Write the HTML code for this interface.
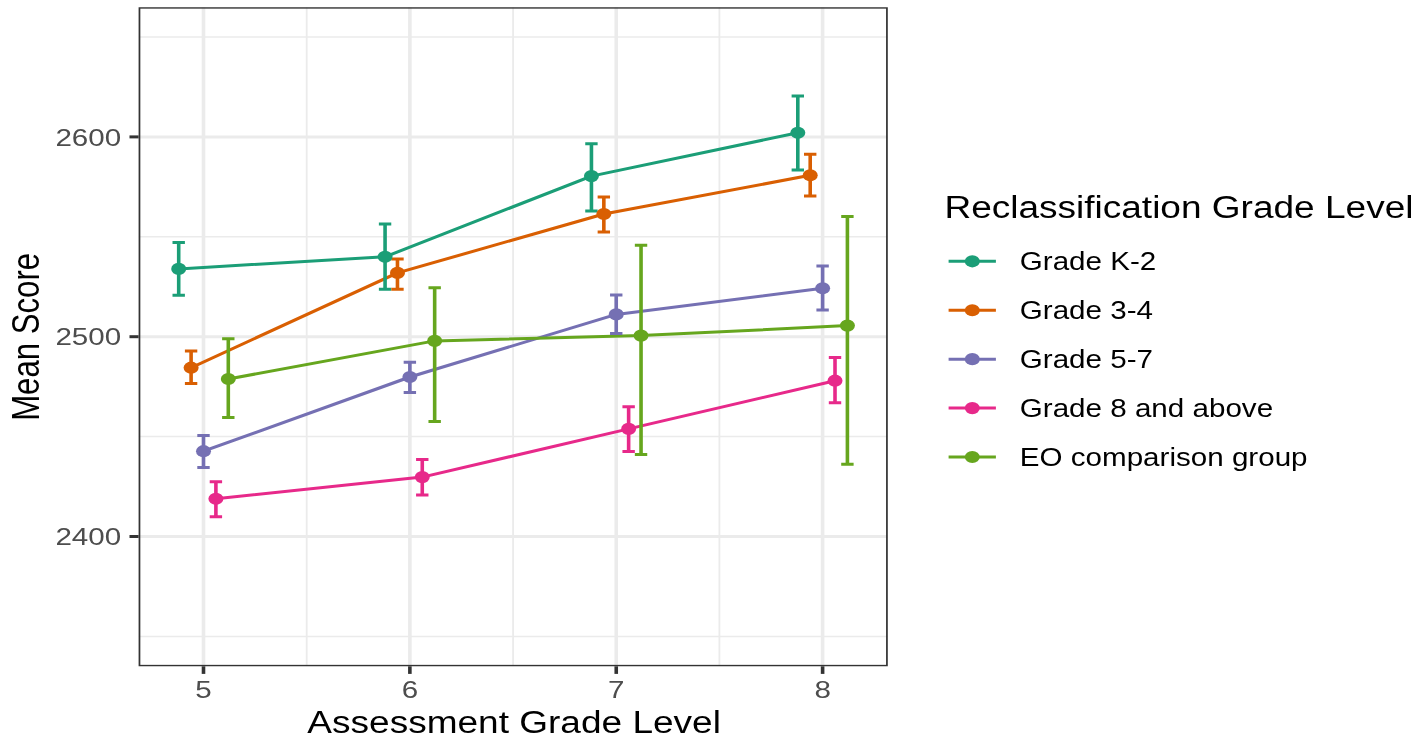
<!DOCTYPE html><html><head><meta charset="utf-8"><style>html,body{margin:0;padding:0;background:#fff;width:1418px;height:740px;overflow:hidden}svg{display:block;will-change:transform}text{font-family:"Liberation Sans",sans-serif}</style></head><body>
<svg width="1418" height="740" viewBox="0 0 1418 740">
<rect width="1418" height="740" fill="#fff"/>
<g transform="scale(1.2,1)">
<defs><clipPath id="pc"><rect x="115.500" y="7.200" width="624.333" height="659.100"/></clipPath></defs>
<g clip-path="url(#pc)">
<line x1="115.500" x2="739.833" y1="636.40" y2="636.40" stroke="#EBEBEB" stroke-width="1.50"/>
<line x1="115.500" x2="739.833" y1="436.60" y2="436.60" stroke="#EBEBEB" stroke-width="1.50"/>
<line x1="115.500" x2="739.833" y1="236.80" y2="236.80" stroke="#EBEBEB" stroke-width="1.50"/>
<line x1="115.500" x2="739.833" y1="37.00" y2="37.00" stroke="#EBEBEB" stroke-width="1.50"/>
<line x1="255.571" x2="255.571" y1="7.20" y2="666.30" stroke="#EBEBEB" stroke-width="1.50"/>
<line x1="427.546" x2="427.546" y1="7.20" y2="666.30" stroke="#EBEBEB" stroke-width="1.50"/>
<line x1="599.521" x2="599.521" y1="7.20" y2="666.30" stroke="#EBEBEB" stroke-width="1.50"/>
<line x1="115.500" x2="739.833" y1="536.50" y2="536.50" stroke="#EBEBEB" stroke-width="3.00"/>
<line x1="115.500" x2="739.833" y1="336.70" y2="336.70" stroke="#EBEBEB" stroke-width="3.00"/>
<line x1="115.500" x2="739.833" y1="136.90" y2="136.90" stroke="#EBEBEB" stroke-width="3.00"/>
<line x1="169.583" x2="169.583" y1="7.20" y2="666.30" stroke="#EBEBEB" stroke-width="3.00"/>
<line x1="341.558" x2="341.558" y1="7.20" y2="666.30" stroke="#EBEBEB" stroke-width="3.00"/>
<line x1="513.533" x2="513.533" y1="7.20" y2="666.30" stroke="#EBEBEB" stroke-width="3.00"/>
<line x1="685.508" x2="685.508" y1="7.20" y2="666.30" stroke="#EBEBEB" stroke-width="3.00"/>
<polyline points="148.917,268.90 320.892,256.80 492.867,176.10 664.842,132.80" fill="none" stroke="#1B9E77" stroke-width="3.00" stroke-linejoin="round"/>
<polyline points="159.250,367.70 331.225,272.90 503.200,214.00 675.175,175.30" fill="none" stroke="#D95F02" stroke-width="3.00" stroke-linejoin="round"/>
<polyline points="169.583,451.20 341.558,377.00 513.533,314.40 685.508,288.30" fill="none" stroke="#7570B3" stroke-width="3.00" stroke-linejoin="round"/>
<polyline points="179.917,498.80 351.892,477.10 523.867,428.90 695.842,380.70" fill="none" stroke="#E7298A" stroke-width="3.00" stroke-linejoin="round"/>
<polyline points="190.250,379.00 362.225,340.90 534.200,335.60 706.175,325.60" fill="none" stroke="#66A61E" stroke-width="3.00" stroke-linejoin="round"/>
<path d="M143.750 242.40H154.083M148.917 242.40V295.30M143.750 295.30H154.083M315.725 224.00H326.058M320.892 224.00V289.30M315.725 289.30H326.058M487.700 143.70H498.033M492.867 143.70V211.00M487.700 211.00H498.033M659.675 96.00H670.008M664.842 96.00V170.10M659.675 170.10H670.008" fill="none" stroke="#1B9E77" stroke-width="3.00" stroke-linecap="butt"/>
<path d="M154.083 350.90H164.417M159.250 350.90V383.50M154.083 383.50H164.417M326.058 259.00H336.392M331.225 259.00V289.30M326.058 289.30H336.392M498.033 196.90H508.367M503.200 196.90V232.10M498.033 232.10H508.367M670.008 154.20H680.342M675.175 154.20V196.10M670.008 196.10H680.342" fill="none" stroke="#D95F02" stroke-width="3.00" stroke-linecap="butt"/>
<path d="M164.417 435.60H174.750M169.583 435.60V467.60M164.417 467.60H174.750M336.392 362.20H346.725M341.558 362.20V392.60M336.392 392.60H346.725M508.367 295.10H518.700M513.533 295.10V333.60M508.367 333.60H518.700M680.342 266.00H690.675M685.508 266.00V310.00M680.342 310.00H690.675" fill="none" stroke="#7570B3" stroke-width="3.00" stroke-linecap="butt"/>
<path d="M174.750 481.70H185.083M179.917 481.70V516.70M174.750 516.70H185.083M346.725 459.40H357.058M351.892 459.40V494.90M346.725 494.90H357.058M518.700 406.70H529.033M523.867 406.70V451.50M518.700 451.50H529.033M690.675 357.40H701.008M695.842 357.40V402.70M690.675 402.70H701.008" fill="none" stroke="#E7298A" stroke-width="3.00" stroke-linecap="butt"/>
<path d="M185.083 338.80H195.417M190.250 338.80V417.60M185.083 417.60H195.417M357.058 287.70H367.392M362.225 287.70V421.60M357.058 421.60H367.392M529.033 245.30H539.367M534.200 245.30V454.50M529.033 454.50H539.367M701.008 216.50H711.342M706.175 216.50V464.20M701.008 464.20H711.342" fill="none" stroke="#66A61E" stroke-width="3.00" stroke-linecap="butt"/>
<ellipse cx="148.917" cy="268.90" rx="6.250" ry="6.10" fill="#1B9E77"/>
<ellipse cx="320.892" cy="256.80" rx="6.250" ry="6.10" fill="#1B9E77"/>
<ellipse cx="492.867" cy="176.10" rx="6.250" ry="6.10" fill="#1B9E77"/>
<ellipse cx="664.842" cy="132.80" rx="6.250" ry="6.10" fill="#1B9E77"/>
<ellipse cx="159.250" cy="367.70" rx="6.250" ry="6.10" fill="#D95F02"/>
<ellipse cx="331.225" cy="272.90" rx="6.250" ry="6.10" fill="#D95F02"/>
<ellipse cx="503.200" cy="214.00" rx="6.250" ry="6.10" fill="#D95F02"/>
<ellipse cx="675.175" cy="175.30" rx="6.250" ry="6.10" fill="#D95F02"/>
<ellipse cx="169.583" cy="451.20" rx="6.250" ry="6.10" fill="#7570B3"/>
<ellipse cx="341.558" cy="377.00" rx="6.250" ry="6.10" fill="#7570B3"/>
<ellipse cx="513.533" cy="314.40" rx="6.250" ry="6.10" fill="#7570B3"/>
<ellipse cx="685.508" cy="288.30" rx="6.250" ry="6.10" fill="#7570B3"/>
<ellipse cx="179.917" cy="498.80" rx="6.250" ry="6.10" fill="#E7298A"/>
<ellipse cx="351.892" cy="477.10" rx="6.250" ry="6.10" fill="#E7298A"/>
<ellipse cx="523.867" cy="428.90" rx="6.250" ry="6.10" fill="#E7298A"/>
<ellipse cx="695.842" cy="380.70" rx="6.250" ry="6.10" fill="#E7298A"/>
<ellipse cx="190.250" cy="379.00" rx="6.250" ry="6.10" fill="#66A61E"/>
<ellipse cx="362.225" cy="340.90" rx="6.250" ry="6.10" fill="#66A61E"/>
<ellipse cx="534.200" cy="335.60" rx="6.250" ry="6.10" fill="#66A61E"/>
<ellipse cx="706.175" cy="325.60" rx="6.250" ry="6.10" fill="#66A61E"/>
<rect x="115.500" y="7.200" width="624.333" height="659.100" fill="none" stroke="#333333" stroke-width="2.90"/>
</g>
<line x1="107.900" x2="115.500" y1="536.50" y2="536.50" stroke="#333333" stroke-width="3.00"/>
<line x1="107.900" x2="115.500" y1="336.70" y2="336.70" stroke="#333333" stroke-width="3.00"/>
<line x1="107.900" x2="115.500" y1="136.90" y2="136.90" stroke="#333333" stroke-width="3.00"/>
<line x1="169.583" x2="169.583" y1="666.30" y2="673.90" stroke="#333333" stroke-width="3.00"/>
<line x1="341.558" x2="341.558" y1="666.30" y2="673.90" stroke="#333333" stroke-width="3.00"/>
<line x1="513.533" x2="513.533" y1="666.30" y2="673.90" stroke="#333333" stroke-width="3.00"/>
<line x1="685.508" x2="685.508" y1="666.30" y2="673.90" stroke="#333333" stroke-width="3.00"/>
</g>
<text transform="translate(121.20,545.20) scale(1.2180,1.0200)" font-size="24.30" fill="#4D4D4D" text-anchor="end">2400</text>
<text transform="translate(121.20,345.40) scale(1.2180,1.0200)" font-size="24.30" fill="#4D4D4D" text-anchor="end">2500</text>
<text transform="translate(121.20,145.60) scale(1.2180,1.0200)" font-size="24.30" fill="#4D4D4D" text-anchor="end">2600</text>
<text transform="translate(203.50,698.30) scale(1.2180,1.0200)" font-size="24.30" fill="#4D4D4D" text-anchor="middle">5</text>
<text transform="translate(409.87,698.30) scale(1.2180,1.0200)" font-size="24.30" fill="#4D4D4D" text-anchor="middle">6</text>
<text transform="translate(616.24,698.30) scale(1.2180,1.0200)" font-size="24.30" fill="#4D4D4D" text-anchor="middle">7</text>
<text transform="translate(822.61,698.30) scale(1.2180,1.0200)" font-size="24.30" fill="#4D4D4D" text-anchor="middle">8</text>
<text transform="translate(514.10,732.90) scale(1.2180,1.0550)" font-size="30.40" fill="#000" text-anchor="middle">Assessment Grade Level</text>
<text transform="translate(38.60,336.90) rotate(-90) scale(1.0250,1.2600)" font-size="30.40" fill="#000" text-anchor="middle">Mean Score</text>
<text transform="translate(944.40,217.70) scale(1.2180,1.0550)" font-size="30.40" fill="#000" text-anchor="start">Reclassification Grade Level</text>
<g transform="scale(1.2,1)">
<line x1="790.500" x2="829.917" y1="261.30" y2="261.30" stroke="#1B9E77" stroke-width="3.00"/>
<ellipse cx="810.250" cy="261.30" rx="6.250" ry="6.10" fill="#1B9E77"/>
<line x1="790.500" x2="829.917" y1="310.23" y2="310.23" stroke="#D95F02" stroke-width="3.00"/>
<ellipse cx="810.250" cy="310.23" rx="6.250" ry="6.10" fill="#D95F02"/>
<line x1="790.500" x2="829.917" y1="359.16" y2="359.16" stroke="#7570B3" stroke-width="3.00"/>
<ellipse cx="810.250" cy="359.16" rx="6.250" ry="6.10" fill="#7570B3"/>
<line x1="790.500" x2="829.917" y1="408.09" y2="408.09" stroke="#E7298A" stroke-width="3.00"/>
<ellipse cx="810.250" cy="408.09" rx="6.250" ry="6.10" fill="#E7298A"/>
<line x1="790.500" x2="829.917" y1="457.02" y2="457.02" stroke="#66A61E" stroke-width="3.00"/>
<ellipse cx="810.250" cy="457.02" rx="6.250" ry="6.10" fill="#66A61E"/>
</g>
<text transform="translate(1019.80,270.20) scale(1.2180,1.0450)" font-size="24.30" fill="#000" text-anchor="start">Grade K-2</text>
<text transform="translate(1019.80,319.13) scale(1.2180,1.0450)" font-size="24.30" fill="#000" text-anchor="start">Grade 3-4</text>
<text transform="translate(1019.80,368.06) scale(1.2180,1.0450)" font-size="24.30" fill="#000" text-anchor="start">Grade 5-7</text>
<text transform="translate(1019.80,416.99) scale(1.2180,1.0450)" font-size="24.30" fill="#000" text-anchor="start">Grade 8 and above</text>
<text transform="translate(1019.80,465.92) scale(1.2180,1.0450)" font-size="24.30" fill="#000" text-anchor="start">EO comparison group</text>
</svg></body></html>
